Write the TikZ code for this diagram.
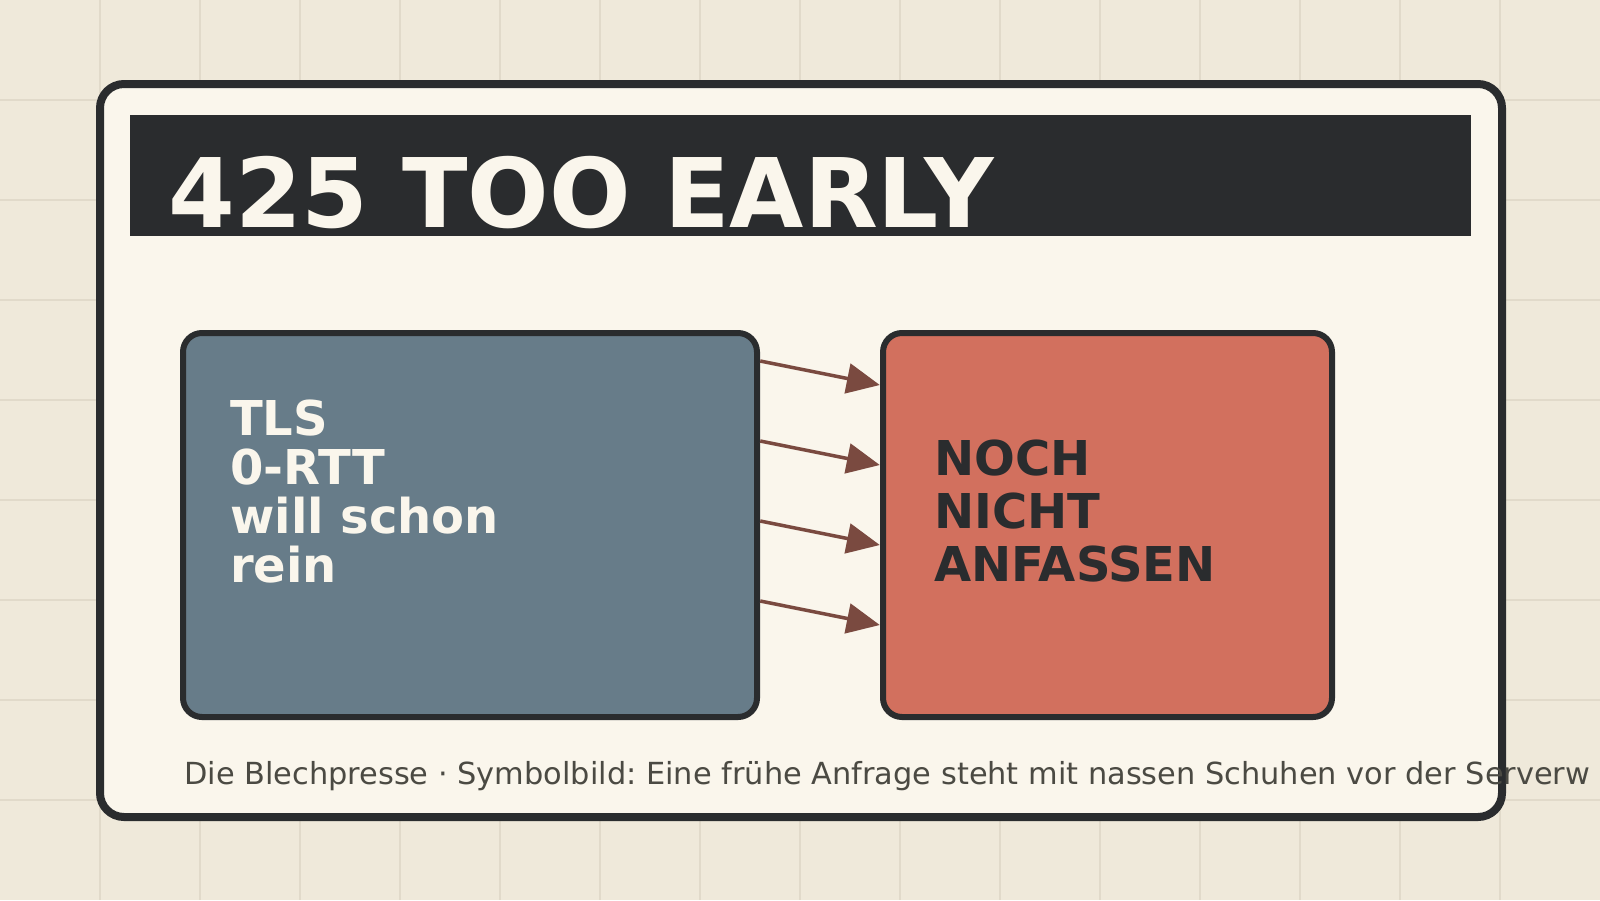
\documentclass[tikz,border=0pt]{standalone}
\usepackage{fontspec}
\setmainfont{DejaVu Sans}
\frenchspacing
\usetikzlibrary{arrows.meta}
\definecolor{bgc}{HTML}{EFE9DA}
\definecolor{gridc}{HTML}{E1DACA}
\definecolor{cardc}{HTML}{FAF6EC}
\definecolor{darkc}{HTML}{2A2C2E}
\definecolor{bluec}{HTML}{677C89}
\definecolor{redc}{HTML}{D2705E}
\definecolor{arrowc}{HTML}{7A4A40}
\definecolor{footc}{HTML}{4B4A43}
\tikzset{
  gridline/.style={draw=gridc, line width=1.2pt},
  cardbox/.style={draw=darkc, fill=cardc, line width=8pt, rounded corners=24pt},
  panel/.style={draw=darkc, line width=6pt, rounded corners=19pt},
  txt/.style={inner sep=0pt, anchor=base west, align=left},
  flow/.style={draw=arrowc, line width=3.5pt, -{Triangle[length=33pt,width=30pt]}, shorten >=0pt},
}
\begin{document}
\begin{tikzpicture}[x=1pt,y=-1pt]
\useasboundingbox (0,0) rectangle (1600,900);
\fill[bgc] (0,0) rectangle (1600,900);
\foreach \g in {100,200,...,1500} {\draw[gridline] (\g,0) -- (\g,900);}
\foreach \g in {100,200,...,800} {\draw[gridline] (0,\g) -- (1600,\g);}
\path[cardbox] (100,84) rectangle (1502,817);
\fill[darkc] (130,115) rectangle (1471,236);
\node[txt, text=cardc, font=\fontsize{96}{100}\selectfont\bfseries] (title) at (168,227) {425 TOO EARLY};
\path[panel, fill=bluec] (183,333) rectangle (757,717);
\path[panel, fill=redc] (883,333) rectangle (1332,717);
\node[inner sep=0pt, minimum width=580pt, minimum height=390pt] (left) at (470,525) {};
\node[inner sep=0pt, minimum width=455pt, minimum height=390pt] (right) at (1107.5,525) {};
\node[txt, text=cardc, font=\fontsize{48}{49}\selectfont\bfseries] (ltext) at (230,582) {TLS\\0-RTT\\will schon\\rein};
\node[txt, text=darkc, font=\fontsize{48}{53}\selectfont\bfseries] (rtext) at (934,581) {NOCH\\NICHT\\ANFASSEN};
\foreach \i/\ya/\yb in {1/361/385, 2/441/465, 3/521/545, 4/601/625} {
  \coordinate (s\i) at (left.east |- 0,\ya);
  \coordinate (e\i) at (right.west |- 0,\yb);
  \draw[flow] (s\i) -- (e\i);
}
\node[txt, text=footc, font=\fontsize{30.4}{34}\selectfont] (foot) at (184,784) {Die Blechpresse · Symbolbild: Eine frühe Anfrage steht mit nassen Schuhen vor der Serverw};
\end{tikzpicture}
\end{document}
